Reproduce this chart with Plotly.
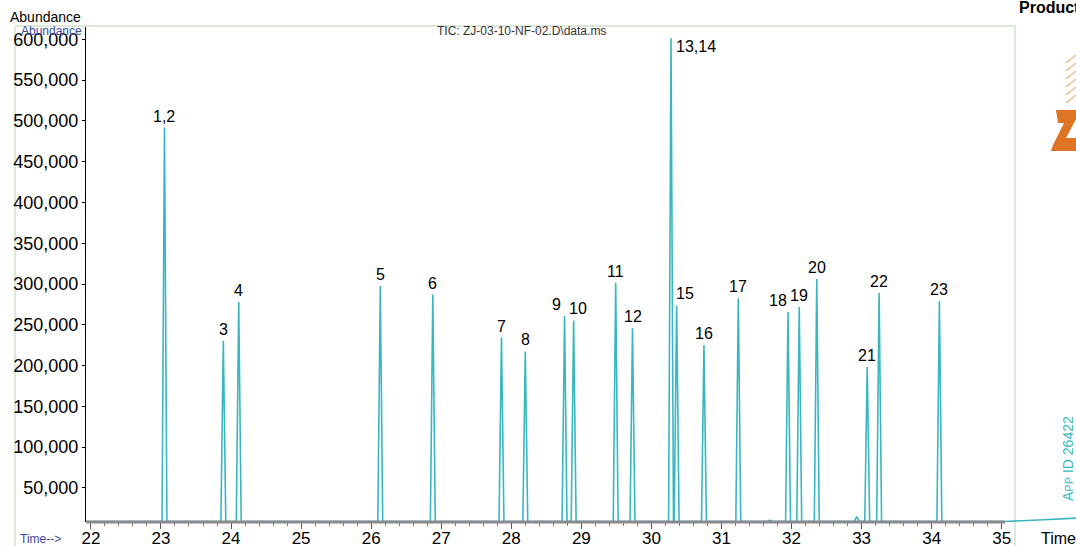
import plotly.graph_objects as go

# ---------------- data ----------------
peak_labels = ["1,2", "3", "4", "5", "6", "7", "8", "9", "10", "11", "12",
               "13,14", "15", "16", "17", "18", "19", "20", "21", "22", "23"]
peak_times = [23.05, 23.89, 24.11, 26.13, 26.88, 27.86, 28.20, 28.76, 28.89,
              29.49, 29.73, 30.28, 30.36, 30.75, 31.24, 31.95, 32.11, 32.36,
              33.08, 33.25, 34.11]
peak_heights = [491800, 230500, 277900, 297600, 287100, 234400, 217300,
                260800, 255300, 301600, 245700, 601200, 273700, 225200,
                282500, 265700, 271800, 306100, 198300, 289000, 279200]
minor_times = [31.69, 32.93]
minor_heights = [10500, 14800]
baseline_level = 9000
tail_times = [34.25, 35.05, 35.6, 36.06]
tail_values = [9000, 9000, 11000, 13000]

x_ticks = list(range(22, 36))
x_tick_text = [str(v) for v in x_ticks]
y_ticks = list(range(50000, 600001, 50000))
y_tick_text = [f"{v:,}" for v in y_ticks]

X_RANGE = [21.93, 36.06]
Y_RANGE = [8300, 615000]
HALF_WIDTH = 0.035
TEAL = "#39b7c1"
FONT = "Liberation Sans, Arial, sans-serif"

# ---------------- build trace through the data arrays ----------------
events = [(t, h) for t, h in zip(peak_times, peak_heights)]
events += [(t, h) for t, h in zip(minor_times, minor_heights)]
events.sort()
xs = [X_RANGE[0]]
ys = [baseline_level]
for t, h in events:
    xs += [t - HALF_WIDTH, t, t + HALF_WIDTH]
    ys += [baseline_level, h, baseline_level]
xs += tail_times
ys += tail_values

fig = go.Figure()
fig.add_trace(go.Scatter(x=xs, y=ys, mode="lines",
                         line=dict(color=TEAL, width=1.6),
                         hoverinfo="skip", showlegend=False))
# invisible helper trace on the overlay axis that carries the long major ticks
fig.add_trace(go.Scatter(x=[X_RANGE[0]], y=[baseline_level], xaxis="x2",
                         mode="lines", line=dict(width=0), hoverinfo="skip",
                         showlegend=False))

# per-label placement tweaks (pixels)
label_shift = {"9": -8, "10": 4, "15": 8, "18": -10}
for lab, t, h in zip(peak_labels, peak_times, peak_heights):
    if lab == "13,14":
        fig.add_annotation(x=t, y=h, text=lab, showarrow=False,
                           xanchor="left", yanchor="top", xshift=3, yshift=2,
                           font=dict(size=16, color="black", family=FONT))
    else:
        fig.add_annotation(x=t, y=h, text=lab, showarrow=False,
                           xanchor="center", yanchor="bottom",
                           xshift=label_shift.get(lab, 0), yshift=1,
                           font=dict(size=16, color="black", family=FONT))

# ---------------- pixel helpers for decoration ----------------
L, T, W, H = 86, 27, 990, 495


def px(xp):
    return (xp - L) / W


def py(yp):
    return (T + H - yp) / H


shapes = []
# light green frame
frame_col = "#dde9d8"
for (a0, b0, a1, b1) in [(15, 27, 15, 546), (15, 26, 1015, 26), (1015, 26, 1015, 546)]:
    shapes.append(dict(type="line", xref="paper", yref="paper", layer="below",
                       x0=px(a0), x1=px(a1), y0=py(b0), y1=py(b1),
                       line=dict(color=frame_col, width=2)))
# gray time axis line
shapes.append(dict(type="line", xref="paper", yref="paper", x0=0, x1=px(1005),
                   y0=0, y1=0, line=dict(color="#8a8a8a", width=3)))
# logo (partial)
zpts = [(1056, 110), (1076, 110), (1076, 119), (1066, 138), (1076, 138),
        (1076, 151), (1051, 151), (1053, 145), (1064, 123), (1058, 123)]
path = "M " + " L ".join(f"{px(a):.4f},{py(b):.4f}" for a, b in zpts) + " Z"
shapes.append(dict(type="path", xref="paper", yref="paper", path=path,
                   fillcolor="#de7424", line=dict(width=0)))
for k in range(6):
    y0 = 55 + k * 8
    shapes.append(dict(type="line", xref="paper", yref="paper",
                       x0=px(1066), x1=px(1076), y0=py(y0 + 8), y1=py(y0),
                       line=dict(color="#eeb27a", width=1.2)))


def paper_note(text, xp, yp, size, color, xanchor="center", bold=False, angle=0):
    return dict(text=f"<b>{text}</b>" if bold else text, x=px(xp), y=py(yp),
                xref="paper", yref="paper", xanchor=xanchor, yanchor="middle",
                textangle=angle, showarrow=False,
                font=dict(size=size, color=color, family=FONT))


annotations = [
    paper_note("Abundance", 45, 17, 14, "black"),
    paper_note("Abundance", 51, 31, 12, "#3b4aa0"),
    paper_note("TIC: ZJ-03-10-NF-02.D\\data.ms", 521, 31, 12, "#333333"),
    paper_note("Time-->", 18, 539, 12, "#3b4aa0", xanchor="left"),
    paper_note("Time", 1039, 538, 16, "black", xanchor="left"),
    paper_note("Product", 1017, 8, 16, "black", xanchor="left", bold=True),
    paper_note("A<span style='font-size:11px'>PP</span> ID 26422", 1068, 459, 14,
               TEAL, angle=-90),
]
for a in annotations:
    fig.add_annotation(**a)

fig.update_layout(
    width=1076, height=546,
    margin=dict(l=L, r=1076 - L - W, t=T, b=546 - T - H, autoexpand=False),
    paper_bgcolor="white", plot_bgcolor="white",
    shapes=shapes, showlegend=False,
    font=dict(family=FONT, color="black"),
    xaxis2=dict(overlaying="x", anchor="y", side="bottom", range=X_RANGE,
                showgrid=False, zeroline=False, showline=False, automargin=False,
                tickmode="array", tickvals=x_ticks, showticklabels=False,
                ticks="outside", ticklen=6, tickwidth=1, tickcolor="#555555"),
)
fig.layout.xaxis.update(
    range=X_RANGE, showgrid=False, zeroline=False, showline=False,
    automargin=False,
    tickmode="array", tickvals=x_ticks, ticktext=x_tick_text,
    ticks="outside", ticklen=1, tickcolor="#555555",
    minor=dict(tickmode="array",
               tickvals=[round(22 + 0.2 * i, 1) for i in range(66)],
               ticks="outside", ticklen=3, tickcolor="#777777"),
    tickfont=dict(size=17, color="black", family=FONT))
fig.update_yaxes(range=Y_RANGE, showgrid=False, zeroline=False, showline=True,
                 automargin=False, linecolor="black", linewidth=1,
                 tickmode="array", tickvals=y_ticks, ticktext=y_tick_text,
                 ticks="outside", ticklen=3, tickcolor="black",
                 tickfont=dict(size=18, color="black", family=FONT))

fig.write_html(
    "out.html",
    config={"displayModeBar": False},
    post_script="document.body.style.margin='0';document.body.style.padding='0';"
                "document.body.style.overflow='hidden';",
)
